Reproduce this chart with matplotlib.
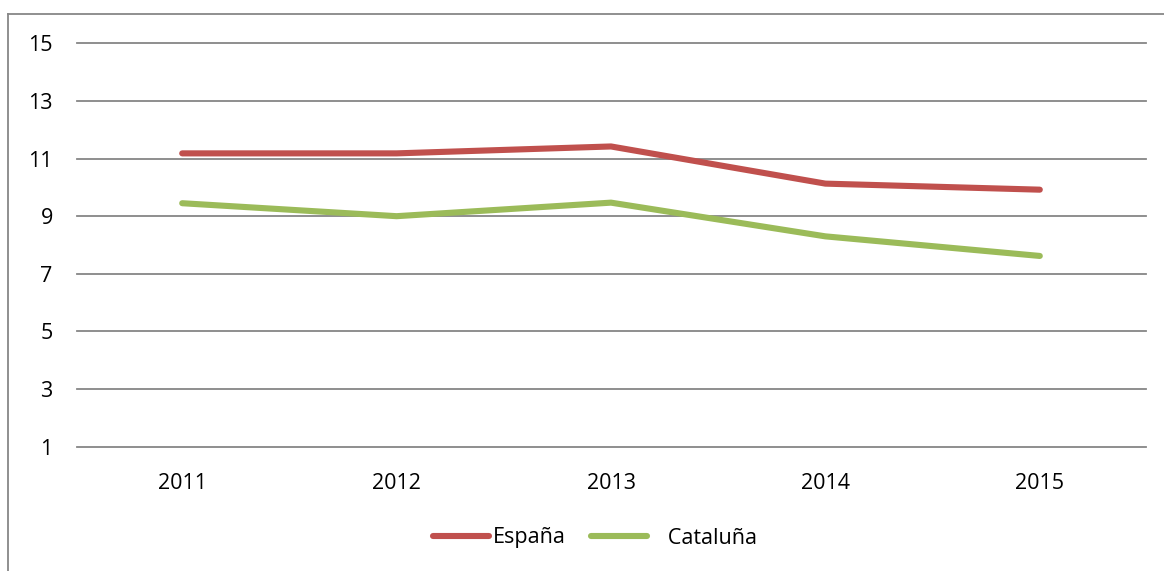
import matplotlib.pyplot as plt
from matplotlib.lines import Line2D

years = ['2011', '2012', '2013', '2014', '2015']
espana = [11.18, 11.18, 11.42, 10.13, 9.92]
cataluna = [9.45, 9.0, 9.47, 8.3, 7.62]
yticks = [1, 3, 5, 7, 9, 11, 13, 15]

plt.rcParams['font.family'] = ['Open Sans', 'DejaVu Sans']

fig = plt.figure(figsize=(11.64, 5.71), dpi=100)
ax = fig.add_axes([75 / 1164, 1 - 446.7 / 571, 1072 / 1164, 403.4 / 571])

x = range(len(years))
ax.plot(x, espana, color='#C0504D', lw=4.4, solid_capstyle='round', label='España', zorder=3)
ax.plot(x, cataluna, color='#9BBB59', lw=4.4, solid_capstyle='round', label='   Cataluña', zorder=3)

ax.set_xlim(-0.5, len(years) - 0.5)
ax.set_ylim(1, 15)
ax.set_yticks(yticks)
ax.set_xticks(list(x))
ax.set_xticklabels(years)
for v in yticks:
    ax.axhline(v, xmin=2 / 1072, xmax=1071 / 1072, color='#868686', lw=1.3, zorder=1, clip_on=False)
for s in ax.spines.values():
    s.set_visible(False)
ax.tick_params(axis='y', length=0, pad=16, labelsize=15.5)
ax.tick_params(axis='x', length=0, pad=19, labelsize=15.5)

# outer chart frame (cut off at right and bottom)
fig.add_artist(Line2D([8 / 1164, 8 / 1164], [0, 1 - 14 / 571], transform=fig.transFigure, color='#878787', lw=1.3))
fig.add_artist(Line2D([8 / 1164, 1], [1 - 14 / 571, 1 - 14 / 571], transform=fig.transFigure, color='#878787', lw=1.3))

fig.legend(loc='center', bbox_to_anchor=(595 / 1164, 1 - 538 / 571), ncol=2, frameon=False,
           fontsize=15.5, handlelength=2.6, handletextpad=0.15, columnspacing=1.2)

fig.savefig('out.png', dpi=100)
